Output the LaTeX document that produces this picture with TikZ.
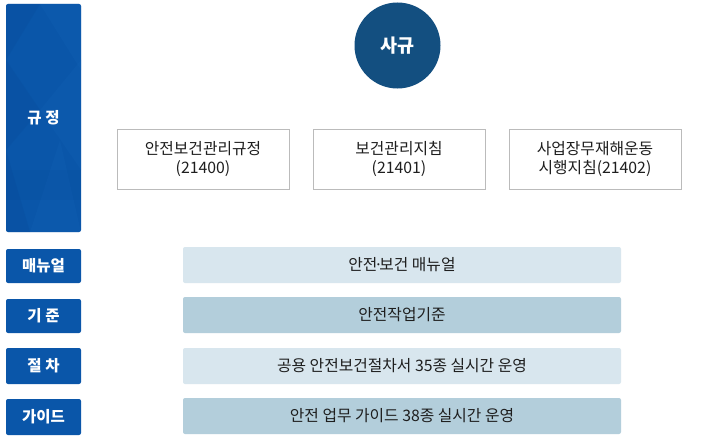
\documentclass[tikz,border=0pt]{standalone}
\usepackage{fontspec}
\setmainfont{Noto Sans CJK KR}
\usetikzlibrary{backgrounds}
\definecolor{blueL}{HTML}{0A56A9}
\definecolor{blueD}{HTML}{084C99}
\definecolor{blueH}{HTML}{1262B5}
\definecolor{circ}{HTML}{134F80}
\definecolor{barA}{HTML}{D8E6EE}
\definecolor{barB}{HTML}{B3CEDB}
\definecolor{lineg}{HTML}{BBBBBB}
\definecolor{txt}{HTML}{1E1E1E}
\tikzset{
  conn/.style={draw=lineg, line width=1pt},
  rulebox/.style={draw=lineg, line width=1pt, fill=white, minimum width=172pt, minimum height=60pt, align=center, font=\fontsize{15.8pt}{19pt}\selectfont, text=txt, inner sep=0pt},
  barbox/.style={rounded corners=2pt, minimum width=438pt, minimum height=36pt, font=\fontsize{15.8pt}{17pt}\selectfont, text=txt, inner sep=0pt},
  sidebox/.style={rounded corners=2pt, fill=blueL, minimum width=75pt, text=white, font=\fontsize{15.5pt}{16pt}\selectfont\bfseries, inner sep=0pt},
}
\begin{document}
\begin{tikzpicture}[x=1pt,y=-1pt]
\useasboundingbox (0,0) rectangle (725,444);
\fill[white] (0,0) rectangle (725,444);
% side labels
\node[sidebox, minimum height=228pt] (l0) at (43.5,118) {};
\begin{scope}
\clip[rounded corners=2pt] (6,4) rectangle (81,232);
\fill[blueD, opacity=0.3] (6,4) -- (40,4) -- (6,60) -- cycle;
\fill[blueH, opacity=0.3] (40,4) -- (81,4) -- (81,70) -- cycle;
\fill[blueD, opacity=0.3] (6,60) -- (40,110) -- (6,150) -- cycle;
\fill[blueH, opacity=0.25] (40,110) -- (81,60) -- (81,170) -- cycle;
\fill[blueD, opacity=0.3] (6,150) -- (30,232) -- (6,232) -- cycle;
\fill[blueH, opacity=0.25] (30,232) -- (60,140) -- (81,232) -- cycle;
\fill[blueD, opacity=0.2] (6,170) -- (81,170) -- (81,200) -- (6,200) -- cycle;
\end{scope}
\node[text=white, font=\fontsize{15.5pt}{16pt}\selectfont\bfseries] (t0) at (l0) {규 정};
\node[sidebox, minimum height=34pt] (l1) at (43.5,266) {매뉴얼};
\node[sidebox, minimum height=34pt] (l2) at (43.5,316) {기 준};
\node[sidebox, minimum height=36pt] (l3) at (43.5,366) {절 차};
\node[sidebox, minimum height=36pt] (l4) at (43.5,417) {가이드};
% top
\node[circle, fill=circ, minimum size=86pt, inner sep=0pt, text=white, font=\fontsize{18.5pt}{20pt}\selectfont\bfseries] (sg) at (397.5,45.5) {사규};
\node[rulebox] (b1) at (203,159) {안전보건관리규정\\(21400)};
\node[rulebox] (b2) at (399,159) {보건관리지침\\(21401)};
\node[rulebox] (b3) at (595,159) {사업장무재해운동\\시행지침(21402)};
% bars
\node[barbox, fill=barA] (m1) at (402,265) {안전\kern-3.5pt·\kern-3.5pt보건 매뉴얼};
\node[barbox, fill=barB] (m2) at (402,315) {안전작업기준};
\node[barbox, fill=barA] (m3) at (402,366) {공용 안전보건절차서 35종 실시간 운영};
\node[barbox, fill=barB] (m4) at (402,416) {안전 업무 가이드 38종 실시간 운영};
\coordinate (t1) at (202,108);
\coordinate (tm) at (398,108);
\coordinate (t3) at (594,108);
\coordinate (u1) at (202,208);
\coordinate (um) at (398,208);
\coordinate (u3) at (594,208);
\begin{scope}[on background layer]
\draw[conn] (sg.south -| tm) -- (m4.north -| tm);
\draw[conn] (t1) -- (t3);
\draw[conn] (u1) -- (u3);
\draw[conn] (t1) -- (t1 |- b1.north);
\draw[conn] (t3) -- (t3 |- b3.north);
\draw[conn] (u1) -- (u1 |- b1.south);
\draw[conn] (u3) -- (u3 |- b3.south);
\end{scope}
\end{tikzpicture}
\end{document}
